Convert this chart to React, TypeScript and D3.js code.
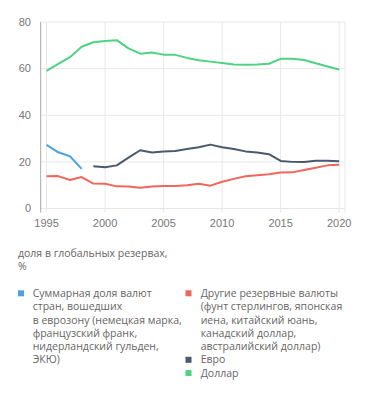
import React from "react";
import * as d3 from "d3";

const years = d3.range(1995, 2021);
const dollar = [59.0, 62.0, 64.9, 69.4, 71.3, 71.8, 72.2, 68.7, 66.4, 66.9, 66.0, 65.9, 64.6, 63.6, 63.0, 62.4, 61.8, 61.7, 61.8, 62.1, 64.2, 64.2, 63.7, 62.3, 60.9, 59.6];
const euroYears = d3.range(1999, 2021);
const euro = [18.1, 17.7, 18.5, 21.8, 25.0, 24.0, 24.5, 24.7, 25.5, 26.3, 27.4, 26.3, 25.5, 24.5, 24.0, 23.3, 20.4, 20.0, 19.9, 20.5, 20.5, 20.3];
const legacyYears = [1995, 1996, 1997, 1998];
const legacy = [27.3, 24.1, 22.4, 17.0];
const other = [13.8, 13.9, 12.2, 13.5, 10.7, 10.6, 9.5, 9.4, 8.9, 9.4, 9.7, 9.7, 10.0, 10.6, 9.8, 11.5, 12.7, 13.8, 14.3, 14.7, 15.4, 15.5, 16.5, 17.5, 18.5, 18.8];
const xTicks = [1995, 2000, 2005, 2010, 2015, 2020];
const yTicks = [0, 20, 40, 60, 80];

const COLORS = {
  legacy: "#4da3e2",
  other: "#f1665b",
  euro: "#4b596c",
  dollar: "#4dd382",
};

export default function App() {
  const x = d3.scaleLinear().domain([1994.5, 2020.5]).range([40.7, 345]);
  const y = d3.scaleLinear().domain([0, 80]).range([208.5, 22]);
  const line = d3
    .line<[number, number]>()
    .x((d) => x(d[0]))
    .y((d) => y(d[1]));
  const zip = (xs: number[], vs: number[]) => xs.map((v, i) => [v, vs[i]] as [number, number]);

  const series = [
    { key: "dollar", data: zip(years, dollar), color: COLORS.dollar },
    { key: "other", data: zip(years, other), color: COLORS.other },
    { key: "euro", data: zip(euroYears, euro), color: COLORS.euro },
    { key: "legacy", data: zip(legacyYears, legacy), color: COLORS.legacy },
  ];

  const tickFont = "'Liberation Sans', Arial, sans-serif";
  const legFont = "'Open Sans', 'Noto Sans', sans-serif";
  const lh = 13.3;
  const leftLines = [
    "Суммарная доля валют",
    "стран, вошедших",
    "в еврозону (немецкая марка,",
    "французский франк,",
    "нидерландский гульден,",
    "ЭКЮ)",
  ];
  const rightLines = [
    "Другие резервные валюты",
    "(фунт стерлингов, японская",
    "иена, китайский юань,",
    "канадский доллар,",
    "австралийский доллар)",
  ];
  const y0 = 293.3;

  return (
    <svg
      width={371}
      height={395}
      style={{ position: "absolute", left: 0, top: 0, background: "#fff" }}
    >
      {yTicks.map((t) => (
        <line key={"gy" + t} x1={40.7} x2={345} y1={y(t)} y2={y(t)} stroke="#e8e8e8" strokeWidth={1} />
      ))}
      {xTicks.map((t) => (
        <line key={"gx" + t} x1={x(t)} x2={x(t)} y1={y(80)} y2={y(0) + 4} stroke="#e8e8e8" strokeWidth={1} />
      ))}
      <line x1={345} x2={345} y1={y(80)} y2={y(0) + 4} stroke="#e8e8e8" strokeWidth={1} />
      <line x1={40.7} x2={40.7} y1={y(80)} y2={y(0) + 4} stroke="#a8a8a8" strokeWidth={1} />
      {yTicks.map((t) => (
        <text key={"ty" + t} x={31} y={y(t)} dy="0.35em" textAnchor="end" fontFamily={tickFont} fontSize={11} fill="#777">
          {t}
        </text>
      ))}
      {xTicks.map((t) => (
        <text key={"tx" + t} x={x(t)} y={226.5} textAnchor="middle" fontFamily={tickFont} fontSize={11} fill="#777">
          {t}
        </text>
      ))}
      {series.map((s) => (
        <path key={s.key} d={line(s.data) || ""} fill="none" stroke={s.color} strokeWidth={2} strokeLinejoin="round" />
      ))}

      <g fontFamily={legFont} fontSize={10.5} fill="#666">
        <text x={18} y={253.3} dy="0.35em">доля в глобальных резервах,</text>
        <text x={18} y={266.7} dy="0.35em">%</text>

        <rect x={18} y={y0 - 3} width={6} height={6} fill={COLORS.legacy} />
        {leftLines.map((l, i) => (
          <text key={"l" + i} x={32.7} y={y0 + i * lh} dy="0.35em">{l}</text>
        ))}
        <rect x={185.5} y={y0 - 3} width={6} height={6} fill={COLORS.other} />
        {rightLines.map((l, i) => (
          <text key={"r" + i} x={200.7} y={y0 + i * lh} dy="0.35em">{l}</text>
        ))}
        <rect x={185.5} y={y0 + 5 * lh - 3} width={6} height={6} fill={COLORS.euro} />
        <text x={200.7} y={y0 + 5 * lh} dy="0.35em">Евро</text>
        <rect x={185.5} y={y0 + 6 * lh - 3} width={6} height={6} fill={COLORS.dollar} />
        <text x={200.7} y={y0 + 6 * lh} dy="0.35em">Доллар</text>
      </g>
    </svg>
  );
}
